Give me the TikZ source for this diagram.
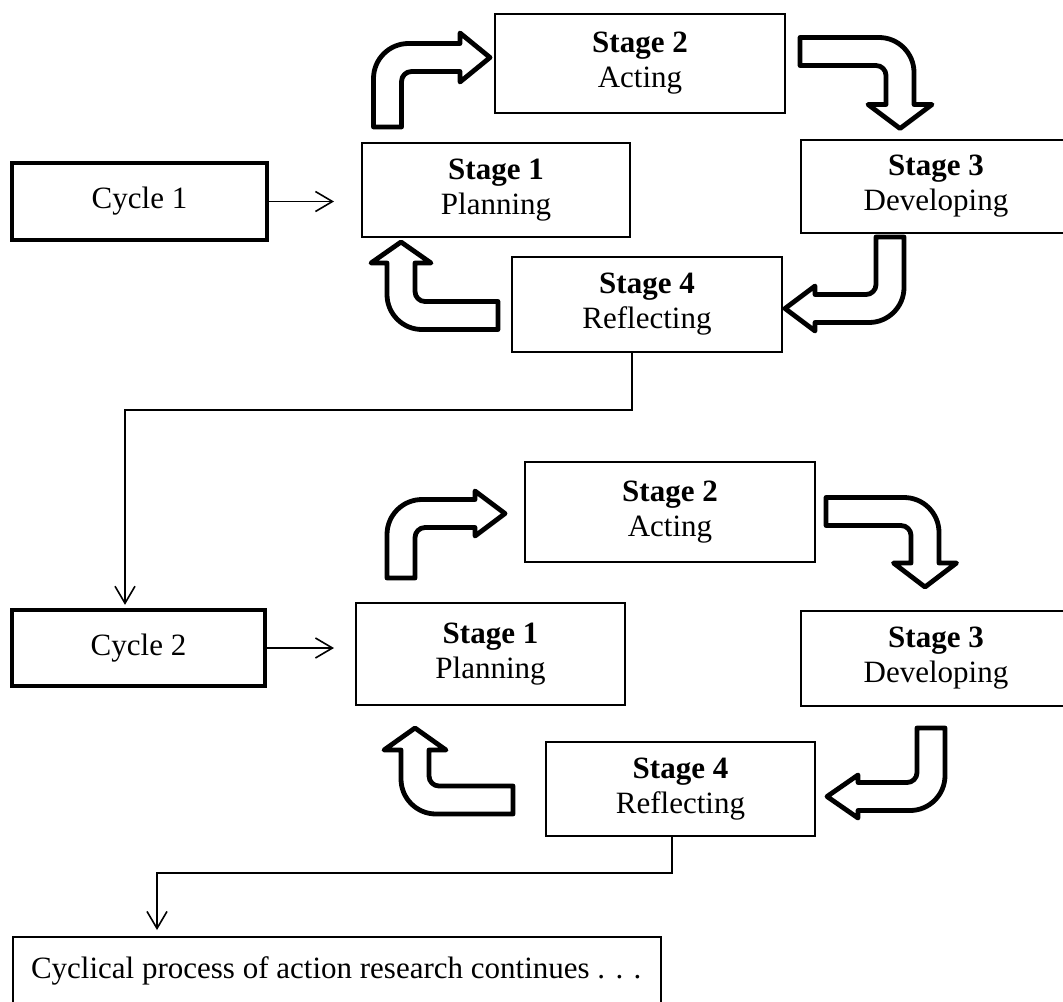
\documentclass[tikz,border=0pt]{standalone}
\usepackage{fontspec}
\setmainfont{Liberation Serif}
\usetikzlibrary{arrows.meta}
\newcommand{\bentarr}[5]{%
\draw[blockarrow,#1]
 (-14,0) -- (-14,{-#2-14+35})
 .. controls (-14,{-#2-14+35*0.4477}) and ({-14+35*0.4477},{-#2-14}) .. ({-14+35},{-#2-14})
 -- (#3,{-#2-14}) -- (#3,{-#2-#5}) -- ({#3+#4},-#2) -- (#3,{-#2+#5}) -- (#3,{-#2+14})
 -- ({14+10},{-#2+14})
 .. controls ({14+10*0.4477},{-#2+14}) and (14,{-#2+14+10*0.4477}) .. (14,{-#2+14+10})
 -- (14,0) -- cycle;}
\begin{document}
\begin{tikzpicture}[x=0.5pt,y=-0.5pt,
 box/.style={draw,line width=1pt,align=center,inner sep=0pt,font=\fontsize{15.5pt}{17.5pt}\selectfont},
 cyc/.style={draw,line width=2.2pt,inner sep=0pt,font=\fontsize{15.5pt}{17.5pt}\selectfont},
 conn/.style={line width=0.8pt,-{Straight Barb[length=8.5pt,width=10pt]}},
 blockarrow/.style={draw,line width=2.4pt,line join=round,fill=white}]
\clip (0,0) rectangle (1063,1001);
% cycle 1
\node[cyc,minimum width=127.5pt,minimum height=38.5pt] (cyc1) at (139.5,201.5) {Cycle 1};
\node[box,minimum width=134pt,minimum height=47pt] (s1a) at (496,190) {\textbf{Stage 1}\\Planning};
\node[box,minimum width=145pt,minimum height=49.5pt] (s2a) at (640,63.5) {\textbf{Stage 2}\\Acting};
\node[box,minimum width=135pt,minimum height=46.5pt] (s3a) at (936,186.5) {\textbf{Stage 3}\\Developing};
\node[box,minimum width=135pt,minimum height=47.5pt] (s4a) at (647,304.5) {\textbf{Stage 4}\\Reflecting};
% cycle 2
\node[cyc,minimum width=126.5pt,minimum height=38pt] (cyc2) at (138.5,648) {Cycle 2};
\node[box,minimum width=134.5pt,minimum height=51pt] (s1b) at (490.5,654) {\textbf{Stage 1}\\Planning};
\node[box,minimum width=145pt,minimum height=50pt] (s2b) at (670,512) {\textbf{Stage 2}\\Acting};
\node[box,minimum width=135pt,minimum height=47.5pt] (s3b) at (936,658.5) {\textbf{Stage 3}\\Developing};
\node[box,minimum width=134.5pt,minimum height=47pt] (s4b) at (680.5,789) {\textbf{Stage 4}\\Reflecting};
% bottom box
\node[draw,line width=1pt,anchor=north west,inner xsep=9pt,inner ysep=0pt,
 text height=20.5pt,text depth=20pt,font=\fontsize{15.5pt}{17.5pt}\selectfont] (bot) at (12,936)
 {\makebox[306pt][l]{Cyclical process of action research continues . . .}};
% block arrows cycle 1
\bentarr{shift={(387.5,127)}}{69.5}{72.5}{30}{24.5}
\bentarr{shift={(800,51.5)},rotate=-90}{100}{53}{24}{32}
\bentarr{shift={(890,237)},rotate=180}{71.5}{75}{30}{22.5}
\bentarr{shift={(498,315.5)},rotate=90}{97}{52.5}{21}{30}
% block arrows cycle 2
\bentarr{shift={(401,578)}}{64.5}{74}{30}{22.5}
\bentarr{shift={(826,511.5)},rotate=-90}{99}{51.5}{24}{31.5}
\bentarr{shift={(931,728)},rotate=180}{68.5}{73}{31}{21.5}
\bentarr{shift={(513,800)},rotate=90}{98}{50}{22}{31}
% connectors
\draw[conn,shorten >=13.5pt] (cyc1.east) -- (cyc1.east -| s1a.west);
\draw[conn,shorten >=10.5pt] (cyc2.east) -- (cyc2.east -| s1b.west);
\coordinate (j1) at (632,410);
\coordinate (j2) at (125,410);
\draw[conn,shorten >=1.5pt] (j1 |- s4a.south) -- (j1) -- (j2) -- (j2 |- cyc2.north);
\coordinate (k1) at (672,873);
\coordinate (k2) at (157,873);
\draw[conn,shorten >=3pt] (k1 |- s4b.south) -- (k1) -- (k2) -- (k2 |- bot.north);
\end{tikzpicture}
\end{document}
